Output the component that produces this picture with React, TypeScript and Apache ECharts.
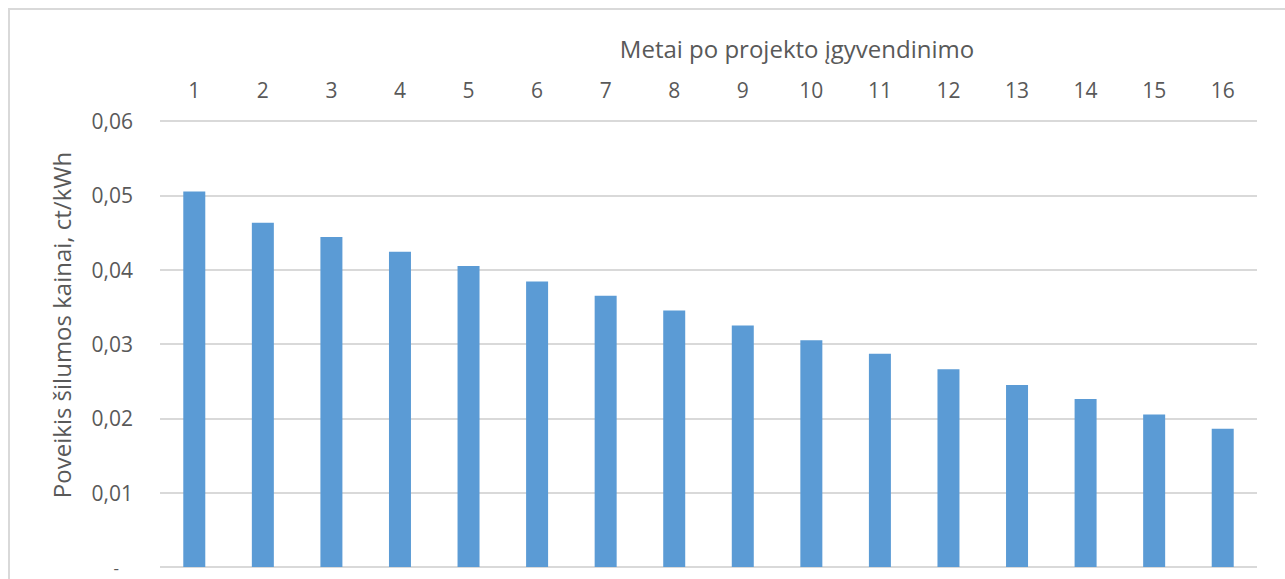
import React, { useEffect, useRef } from "react";
import * as echarts from "echarts";

const categories = ["1", "2", "3", "4", "5", "6", "7", "8", "9", "10", "11", "12", "13", "14", "15", "16"];
const values = [0.0505, 0.0463, 0.0444, 0.0424, 0.0405, 0.0384, 0.0365, 0.0345, 0.0325, 0.0305, 0.0287, 0.0266, 0.0245, 0.0226, 0.0205, 0.0186];
const xTitle = "Metai po projekto įgyvendinimo";
const yTitle = "Poveikis šilumos kainai, ct/kWh";

const FONT = "'Open Sans', 'DejaVu Sans', sans-serif";
const TEXT = "#595959";

export default function App() {
  const ref = useRef<HTMLDivElement>(null);
  useEffect(() => {
    if (!ref.current) return;
    const chart = echarts.init(ref.current, null, { renderer: "svg" });
    chart.setOption({
      animation: false,
      backgroundColor: "#ffffff",
      textStyle: { fontFamily: FONT },
      grid: { left: 160, right: 28, top: 121, bottom: 12, containLabel: false },
      xAxis: {
        type: "category",
        position: "top",
        data: categories,
        axisLine: { show: false },
        axisTick: { show: false },
        axisLabel: { color: TEXT, fontSize: 21, margin: 21, fontFamily: FONT },
      },
      yAxis: {
        type: "value",
        min: 0,
        max: 0.06,
        interval: 0.01,
        axisLine: { show: false },
        axisTick: { show: false },
        splitLine: { lineStyle: { color: "#D9D9D9", width: 2 } },
        axisLabel: {
          color: TEXT,
          fontSize: 21,
          margin: 27,
          fontFamily: FONT,
          formatter: (v: number) => (Math.abs(v) < 1e-9 ? "{d|-}" : v.toFixed(2).replace(".", ",")),
          rich: { d: { color: TEXT, fontSize: 17, lineHeight: 12, fontFamily: FONT, padding: [0, 14, 0, 0] } },
        },
      },
      series: [
        {
          type: "bar",
          data: values,
          barWidth: 22,
          itemStyle: { color: "#5B9BD5" },
        },
      ],
      graphic: [
        {
          type: "rect",
          shape: { x: 9, y: 9, width: 1400, height: 700 },
          style: { fill: "none", stroke: "#D9D9D9", lineWidth: 2 },
          silent: true,
        },
        {
          type: "text",
          x: 797,
          y: 48,
          style: {
            text: xTitle,
            fill: TEXT,
            font: `24px ${FONT}`,
            align: "center",
            verticalAlign: "middle",
          },
        },
        {
          type: "text",
          x: 61,
          y: 325,
          rotation: Math.PI / 2,
          style: {
            text: yTitle,
            fill: TEXT,
            font: `24px ${FONT}`,
            align: "center",
            verticalAlign: "middle",
          },
        },
      ],
    });
    return () => chart.dispose();
  }, []);
  return <div ref={ref} style={{ position: "fixed", left: 0, top: 0, width: 1285, height: 579 }} />;
}
